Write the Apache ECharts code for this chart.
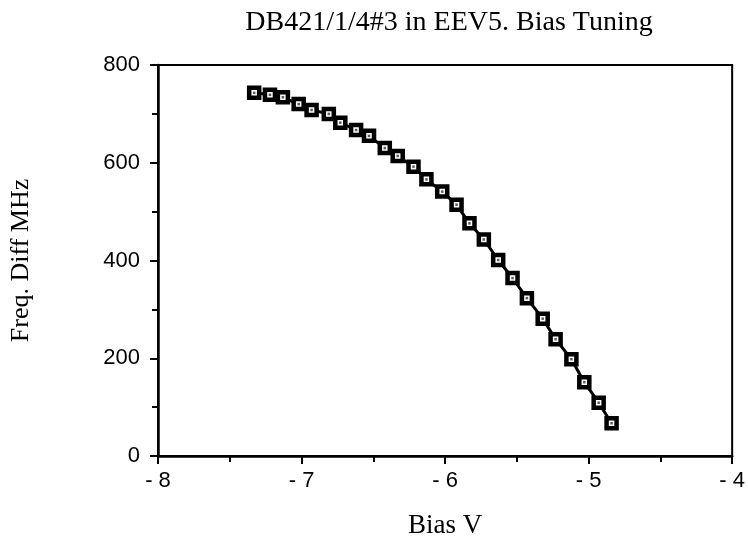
<!DOCTYPE html>
<html>
<head>
<meta charset="utf-8">
<script src="https://cdn.jsdelivr.net/npm/echarts@6/dist/echarts.min.js"></script>
<style>html,body{margin:0;padding:0;background:#fff}#c{width:748px;height:550px}</style>
</head>
<body>
<div id="c"></div>
<script>
var titleText = 'DB421/1/4#3 in EEV5. Bias Tuning';
var xName = 'Bias V';
var yName = 'Freq. Diff MHz';
var biasV = [-7.33, -7.22, -7.13, -7.02, -6.93, -6.81, -6.73, -6.62, -6.53, -6.42, -6.33, -6.22, -6.13, -6.02, -5.92, -5.83, -5.73, -5.63, -5.53, -5.43, -5.32, -5.23, -5.12, -5.03, -4.93, -4.84];
var freqDiff = [743, 739, 734, 720, 708, 700, 682, 667, 655, 630, 614, 592, 566, 541, 514, 476, 443, 401, 364, 323, 281, 239, 198, 151, 109, 67];

var pts = biasV.map(function (x, i) { return [x, freqDiff[i]]; });
var chart = echarts.init(document.getElementById('c'), null, {renderer: 'canvas'});
chart.setOption({
  animation: false,
  backgroundColor: '#fff',
  title: {
    text: titleText,
    left: 444,
    top: 4,
    textAlign: 'center',
    textStyle: {fontFamily: 'Liberation Serif', fontWeight: 'normal', fontSize: 28, color: '#000'}
  },
  grid: {left: 155, right: 13, top: 65, bottom: 94, show: true, borderColor: '#000', borderWidth: 2, backgroundColor: 'transparent'},
  xAxis: {
    type: 'value', min: -8, max: -4, interval: 1,
    name: xName, nameLocation: 'middle', nameGap: 56,
    nameTextStyle: {fontFamily: 'Liberation Serif', fontSize: 27, color: '#000'},
    axisLine: {show: true, lineStyle: {color: '#000', width: 2.5}},
    axisTick: {show: true, inside: false, length: 8, lineStyle: {color: '#000', width: 2}},
    minorTick: {show: true, splitNumber: 2, length: 6, lineStyle: {color: '#000', width: 2}},
    splitLine: {show: false},
    axisLabel: {margin: 14, fontFamily: 'Liberation Sans', fontSize: 22, color: '#000',
      formatter: function (v) { return v < 0 ? '- ' + Math.abs(v) : String(v); }}
  },
  yAxis: {
    type: 'value', min: 0, max: 800, interval: 200,
    name: yName, nameLocation: 'middle', nameGap: 124, nameRotate: 90,
    nameTextStyle: {fontFamily: 'Liberation Serif', fontSize: 26, color: '#000'},
    axisLine: {show: true, lineStyle: {color: '#000', width: 2.5}},
    axisTick: {show: true, inside: false, length: 8, lineStyle: {color: '#000', width: 2}},
    minorTick: {show: true, splitNumber: 2, length: 6, lineStyle: {color: '#000', width: 2}},
    splitLine: {show: false},
    axisLabel: {margin: 18, fontFamily: 'Liberation Sans', fontSize: 22, color: '#000'}
  },
  series: [
    {
      type: 'line', data: pts, symbol: 'rect', symbolSize: 10, showSymbol: true,
      lineStyle: {color: '#000', width: 3},
      itemStyle: {color: '#fff', borderColor: '#000', borderWidth: 4.5}
    },
    {
      type: 'scatter', data: pts, symbol: 'rect', symbolSize: 2.5,
      itemStyle: {color: '#333'}, z: 5
    }
  ]
});
</script>
</body>
</html>
